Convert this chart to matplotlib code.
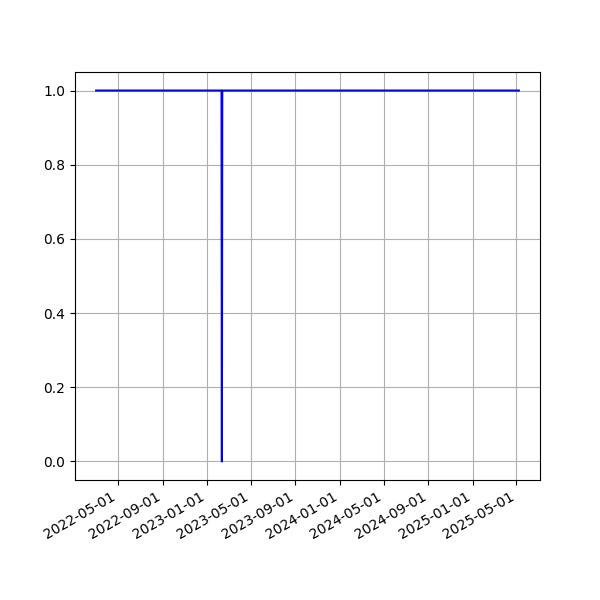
import matplotlib
matplotlib.use('Agg')
import matplotlib.pyplot as plt
import matplotlib.dates as mdates
import pandas as pd

# status series: up all the time except one outage day
dates = ['2022-03-02', '2023-02-10', '2023-02-11', '2023-02-12', '2025-05-08']
status = [1, 1, 0, 1, 1]

x = pd.to_datetime(dates)

fig, ax = plt.subplots(figsize=(6, 6), dpi=100)
ax.plot(x, status, color='b', linewidth=1.5)
ax.grid(True)
ax.xaxis.set_major_locator(mdates.AutoDateLocator())
ax.xaxis.set_major_formatter(mdates.DateFormatter('%Y-%m-%d'))
fig.autofmt_xdate()
plt.savefig('out.png')
